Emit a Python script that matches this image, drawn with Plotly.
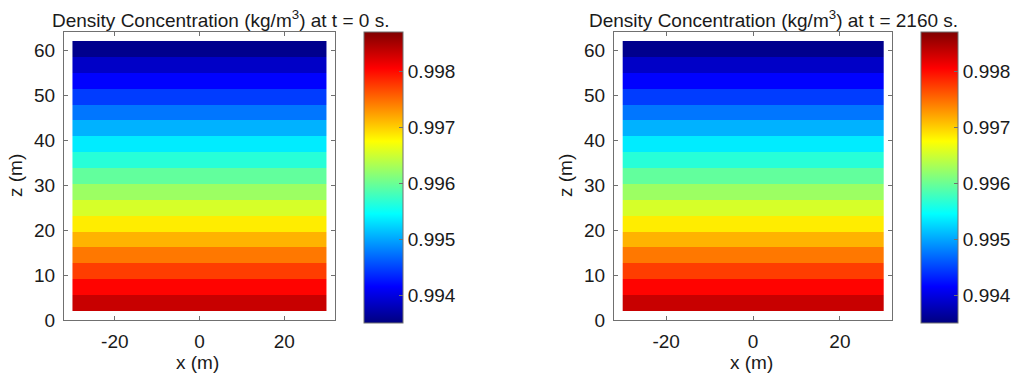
import plotly.graph_objects as go

# Band edges in depth (m), bottom to top
z_edges = [2.0, 5.53, 9.06, 12.59, 16.12, 19.65, 23.18, 26.71, 30.24, 33.76,
           37.29, 40.82, 44.35, 47.88, 51.41, 54.94, 58.47, 62.0]
x_edges = [-30, 30]

# Density (kg/m^3) per band, bottom to top
density_t0 = [0.998340, 0.998043, 0.997746, 0.997444, 0.997147, 0.996850,
              0.996548, 0.996251, 0.995954, 0.995652, 0.995355, 0.995058,
              0.994756, 0.994459, 0.994162, 0.993865, 0.993565]
density_t2160 = [0.998340, 0.998043, 0.997746, 0.997444, 0.997147, 0.996850,
                 0.996548, 0.996251, 0.995954, 0.995652, 0.995355, 0.995058,
                 0.994756, 0.994459, 0.994162, 0.993865, 0.993565]

cbar_ticks = [0.994, 0.995, 0.996, 0.997, 0.998]
cmin, cmax = 0.99350, 0.99871
x_ticks = [-20, 0, 20]
x_ticklabels = ["-20", "0", "20"]
y_ticks = [0, 10, 20, 30, 40, 50, 60]
titles = ["Density Concentration (kg/m<sup>3</sup>) at t = 0 s.",
          "Density Concentration (kg/m<sup>3</sup>) at t = 2160 s."]

jet = [[0.0, "rgb(0,0,128)"], [0.125, "rgb(0,0,255)"], [0.375, "rgb(0,255,255)"],
       [0.625, "rgb(255,255,0)"], [0.875, "rgb(255,0,0)"], [1.0, "rgb(128,0,0)"]]

W, H = 1015, 374
FONT = "Liberation Sans, Arial, sans-serif"
FS = 19
TXT = "#1a1a1a"
GRAY = "#707070"

def px(x):
    return x / W

def py(y):
    return 1 - y / H

fig = go.Figure()

panels = [
    dict(data=density_t0, xd=(64, 335), cb=(364, 39), xa="x", ya="y", title_x=220),
    dict(data=density_t2160, xd=(614, 892), cb=(921, 37), xa="x2", ya="y2", title_x=773),
]

for i, p in enumerate(panels):
    fig.add_trace(go.Heatmap(
        x=x_edges, y=z_edges, z=[[v] for v in p["data"]],
        colorscale=jet, zmin=cmin, zmax=cmax, zsmooth=False,
        hoverinfo="skip", xaxis=p["xa"], yaxis=p["ya"],
        colorbar=dict(
            x=px(p["cb"][0]), xanchor="left", xpad=0, ypad=0,
            y=py(32), yanchor="top", len=291 / H, lenmode="fraction",
            thickness=p["cb"][1], thicknessmode="pixels",
            outlinecolor=GRAY, outlinewidth=1,
            tickvals=cbar_ticks, ticktext=[f"{t:.3f}" for t in cbar_ticks],
            ticks="inside", ticklen=4, tickcolor=GRAY,
            tickfont=dict(family=FONT, size=FS, color=TXT),
        ),
    ))

axis_common = dict(
    showline=True, linecolor=GRAY, linewidth=1.2, mirror="ticks",
    ticks="inside", ticklen=4, tickcolor=GRAY, showgrid=False, zeroline=False,
    tickfont=dict(family=FONT, size=FS, color=TXT), ticklabelstandoff=4,
)

fig.update_layout(
    width=W, height=H, margin=dict(l=0, r=0, t=0, b=0, autoexpand=False),
    paper_bgcolor="white", plot_bgcolor="white", showlegend=False,
    xaxis=dict(domain=[px(64), px(335)], range=[-32, 32], tickvals=x_ticks,
               ticktext=x_ticklabels, anchor="y", **axis_common),
    yaxis=dict(domain=[py(320), py(32)], range=[0, 64], tickvals=y_ticks,
               anchor="x", **axis_common),
    xaxis2=dict(domain=[px(614), px(892)], range=[-32, 32], tickvals=x_ticks,
                ticktext=x_ticklabels, anchor="y2", **axis_common),
    yaxis2=dict(domain=[py(320), py(32)], range=[0, 64], tickvals=y_ticks,
                anchor="x2", **axis_common),
)

ann_font = dict(family=FONT, size=FS, color=TXT)
for i, p in enumerate(panels):
    cx = (p["xd"][0] + p["xd"][1]) / 2
    fig.add_annotation(text=titles[i], x=px(p["title_x"]), y=py(19),
                       xref="paper", yref="paper", showarrow=False,
                       xanchor="center", yanchor="middle", font=ann_font)
    fig.add_annotation(text="x (m)", x=px(cx - 2), y=py(362),
                       xref="paper", yref="paper", showarrow=False,
                       xanchor="center", yanchor="middle", font=ann_font)
    fig.add_annotation(text="z (m)", x=px(p["xd"][0] - 49), y=py(176),
                       xref="paper", yref="paper", showarrow=False, textangle=-90,
                       xanchor="center", yanchor="middle", font=ann_font)

fig.write_html("out.html")
